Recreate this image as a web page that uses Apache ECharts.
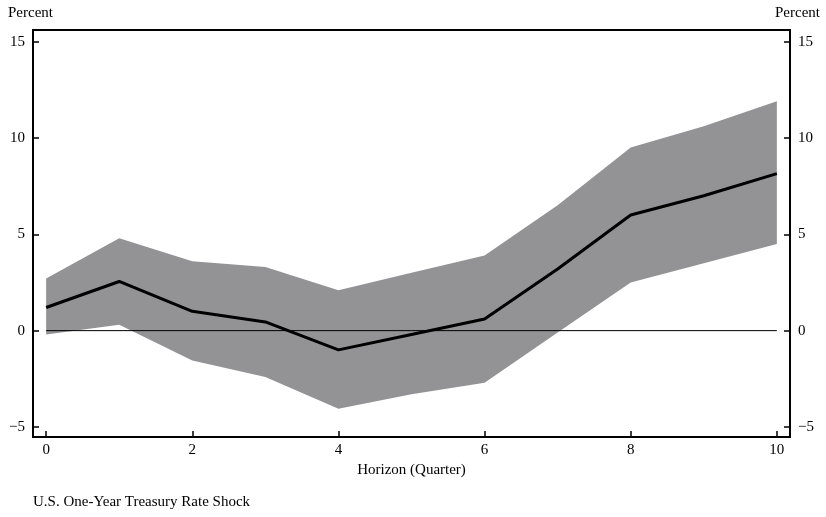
<!DOCTYPE html>
<html style="height: 100%">
<head>
    <meta charset="utf-8">
</head>
<body style="height: 100%; margin: 0; background: #fff">
<div id="container" style="width: 826px; height: 517px"></div>
<script src="https://cdn.jsdelivr.net/npm/echarts@6/dist/echarts.min.js"></script>
<script type="text/javascript">
    var horizon = [0, 1, 2, 3, 4, 5, 6, 7, 8, 9, 10];
    var response = [1.2, 2.55, 1.0, 0.45, -1.0, -0.2, 0.6, 3.2, 6.0, 7.0, 8.15];
    var upper = [2.7, 4.8, 3.6, 3.3, 2.1, 3.0, 3.9, 6.5, 9.5, 10.6, 11.9];
    var lower = [-0.2, 0.3, -1.55, -2.4, -4.05, -3.3, -2.7, -0.1, 2.5, 3.5, 4.5];
    var xTicks = [0, 2, 4, 6, 8, 10];
    var yTicks = [-5, 0, 5, 10, 15];

    var font = 'Liberation Serif';
    var chart = echarts.init(document.getElementById('container'), null, {renderer: 'canvas'});

    function pairs(ys) {
        return horizon.map(function (h, i) { return [h, ys[i]]; });
    }
    var bandData = horizon.map(function (h, i) { return [h, lower[i], upper[i]]; });

    function minus(v) { return String(v).replace('-', '\u2212'); }

    var yAxisBase = {
        type: 'value',
        min: -5.52,
        max: 15.6,
        splitLine: {show: false},
        axisLine: {show: true, onZero: false, lineStyle: {color: '#000', width: 2}},
        axisTick: {show: true, inside: true, length: 6, customValues: yTicks, lineStyle: {color: '#000', width: 1.5}},
        axisLabel: {customValues: yTicks, color: '#000', fontFamily: font, fontSize: 15, formatter: minus}
    };

    var option = {
        animation: false,
        grid: {left: 33, right: 36, top: 30, bottom: 80, show: true, borderColor: '#000', borderWidth: 2, backgroundColor: 'transparent'},
        graphic: [
            {type: 'text', left: 8, top: 6, style: {text: 'Percent', font: '15px "Liberation Serif"', fill: '#000'}},
            {type: 'text', right: 6, top: 6, style: {text: 'Percent', font: '15px "Liberation Serif"', fill: '#000'}},
            {type: 'text', left: 33, top: 495, style: {text: 'U.S. One-Year Treasury Rate Shock', font: '15px "Liberation Serif"', fill: '#000'}}
        ],
        xAxis: {
            type: 'value',
            min: -0.18,
            max: 10.18,
            name: 'Horizon (Quarter)',
            nameLocation: 'middle',
            nameGap: 22,
            nameTextStyle: {color: '#000', fontFamily: font, fontSize: 15},
            splitLine: {show: false},
            axisLine: {show: true, onZero: false, lineStyle: {color: '#000', width: 2}},
            axisTick: {show: true, inside: true, length: 6, customValues: xTicks, lineStyle: {color: '#000', width: 1.5}},
            axisLabel: {customValues: xTicks, color: '#000', fontFamily: font, fontSize: 15, margin: 6}
        },
        yAxis: [
            Object.assign({}, yAxisBase, {position: 'left'}),
            Object.assign({}, yAxisBase, {position: 'right'})
        ],
        series: [
            {
                type: 'custom',
                data: bandData,
                encode: {x: 0, y: [1, 2]},
                silent: true,
                renderItem: function (params, api) {
                    if (params.dataIndex !== 0) return;
                    var top = [], bottom = [];
                    for (var i = 0; i < bandData.length; i++) {
                        top.push(api.coord([bandData[i][0], bandData[i][2]]));
                        bottom.unshift(api.coord([bandData[i][0], bandData[i][1]]));
                    }
                    return {
                        type: 'polygon',
                        shape: {points: top.concat(bottom)},
                        style: {fill: '#939396'}
                    };
                }
            },
            {type: 'line', data: [[0, 0], [10, 0]], symbol: 'none', lineStyle: {color: '#000', width: 1}},
            {type: 'line', data: pairs(response), symbol: 'none', lineStyle: {color: '#000', width: 3}}
        ]
    };
    chart.setOption(option);
</script>
</body>
</html>
